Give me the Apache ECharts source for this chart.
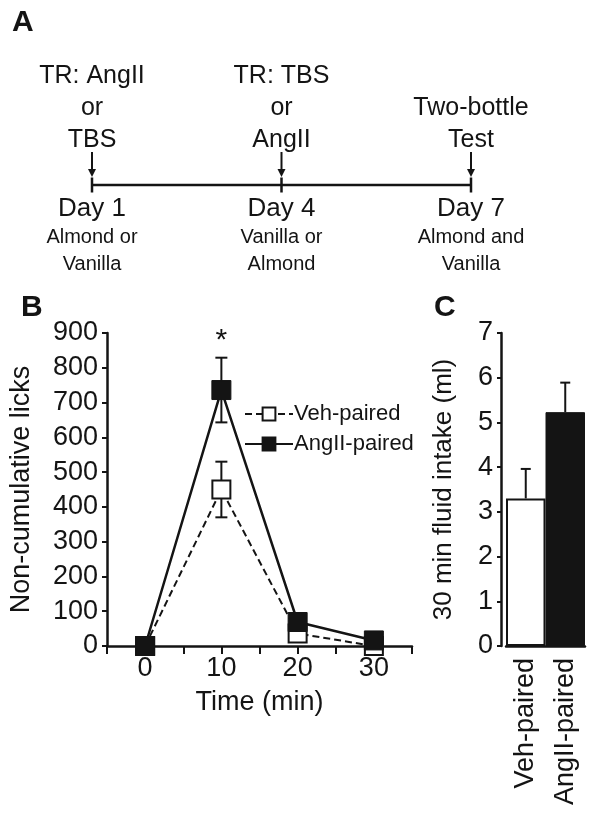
<!DOCTYPE html>
<html>
<head>
<meta charset="utf-8">
<script src="https://cdn.jsdelivr.net/npm/echarts@6/dist/echarts.min.js"></script>
<style>html,body{margin:0;padding:0;background:#fff}#c{width:601px;height:814px}</style>
</head>
<body>
<div id="c"></div>
<script>
// ---- Panel A (timeline) ----
const days = [1, 4, 7];
const treatLabels = ['TR: AngII\nor\nTBS', 'TR: TBS\nor\nAngII', 'Two-bottle\nTest'];
const dayLabels = ['Day 1', 'Day 4', 'Day 7'];
const flavorLabels = [['Almond or', 'Vanilla'], ['Vanilla or', 'Almond'], ['Almond and', 'Vanilla']];

// ---- Panel B (licks over time) ----
const times = [0, 10, 20, 30];
const xTickLabels = [0, 10, 20, 30];
const vehLicks = [0, 450, 36, 0];
const vehErr = [0, 80, 0, 0];
const angLicks = [0, 736, 69, 16];
const angErr = [0, 93, 0, 0];
const sigTimes = [10];

// ---- Panel C (intake bars) ----
const groups = ['Veh-paired', 'AngII-paired'];
const intake = [3.30, 5.23];
const intakeErr = [0.66, 0.66];

const FONT = 'Liberation Sans, Arial, sans-serif';
const INK = '#141414';

function errSeries(name, xi, yi, data, both, capW, z) {
  return {
    name: name, type: 'custom', xAxisIndex: xi, yAxisIndex: yi, z: z, silent: true,
    data: data,
    encode: { x: 0, y: 1 },
    renderItem: function (params, api) {
      const x = api.value(0), v = api.value(1), e = api.value(2);
      const top = api.coord([x, v + e]);
      const bot = api.coord([x, both ? v - e : v]);
      const st = { stroke: INK, lineWidth: 2 };
      const ch = [
        { type: 'line', shape: { x1: top[0], y1: top[1], x2: bot[0], y2: bot[1] }, style: st },
        { type: 'line', shape: { x1: top[0] - capW / 2, y1: top[1], x2: top[0] + capW / 2, y2: top[1] }, style: st }
      ];
      if (both) ch.push({ type: 'line', shape: { x1: bot[0] - capW / 2, y1: bot[1], x2: bot[0] + capW / 2, y2: bot[1] }, style: st });
      return { type: 'group', children: ch };
    }
  };
}

const chart = echarts.init(document.getElementById('c'), null, { renderer: 'canvas' });

const option = {
  backgroundColor: '#fff',
  animation: false,
  textStyle: { fontFamily: FONT, color: INK },
  title: [
    { text: 'A', left: 12, top: 8, padding: 0, textStyle: { fontFamily: FONT, fontSize: 30, fontWeight: 'bold', color: INK } },
    { text: 'B', left: 21, top: 293, padding: 0, textStyle: { fontFamily: FONT, fontSize: 30, fontWeight: 'bold', color: INK } },
    { text: 'C', left: 434, top: 293, padding: 0, textStyle: { fontFamily: FONT, fontSize: 30, fontWeight: 'bold', color: INK } }
  ],
  legend: {
    orient: 'vertical', left: 244, top: 403, itemWidth: 48, itemHeight: 16, itemGap: 8,
    padding: 0,
    textStyle: { fontFamily: FONT, fontSize: 22, color: INK, padding: [0, 0, 0, -4] },
    data: ['Veh-paired', 'AngII-paired'],
    selectedMode: false
  },
  grid: [
    { left: 92, right: 130, top: 175, height: 20 },
    { left: 107, right: 189, top: 333, bottom: 168 },
    { left: 506, right: 16, top: 333, bottom: 168 }
  ],
  xAxis: [
    { gridIndex: 0, type: 'value', min: 1, max: 7, show: false },
    {
      gridIndex: 1, type: 'value', min: -5, max: 35, interval: 5,
      axisLine: { onZero: false, lineStyle: { color: INK, width: 2.5 } },
      axisTick: { inside: false, length: 8, lineStyle: { color: INK, width: 2 } },
      splitLine: { show: false },
      axisLabel: {
        fontFamily: FONT, fontSize: 27, color: INK, margin: 9,
        formatter: function (v) { return xTickLabels.indexOf(v) >= 0 ? String(v) : ''; }
      },
      name: 'Time (min)', nameLocation: 'middle', nameGap: 43,
      nameTextStyle: { fontFamily: FONT, fontSize: 27, color: INK }
    },
    {
      gridIndex: 2, type: 'category', data: groups,
      axisLine: { onZero: false, lineStyle: { color: INK, width: 2.5 } },
      axisTick: { show: false },
      axisLabel: { fontFamily: FONT, fontSize: 27, color: INK, rotate: 90, margin: 12, interval: 0 }
    }
  ],
  yAxis: [
    { gridIndex: 0, type: 'value', min: -1, max: 1, show: false },
    {
      gridIndex: 1, type: 'value', min: 0, max: 900, interval: 100,
      axisLine: { show: true, onZero: false, lineStyle: { color: INK, width: 2.5 } },
      axisTick: { show: true, length: 5, lineStyle: { color: INK, width: 2 } },
      splitLine: { show: false },
      axisLabel: { fontFamily: FONT, fontSize: 27, color: INK, margin: 9 },
      name: 'Non-cumulative licks', nameLocation: 'middle', nameGap: 72,
      nameTextStyle: { fontFamily: FONT, fontSize: 27, color: INK }
    },
    {
      gridIndex: 2, type: 'value', min: 0, max: 7, interval: 1, offset: 5,
      axisLine: { show: true, onZero: false, lineStyle: { color: INK, width: 2.5 } },
      axisTick: { show: true, length: 4, lineStyle: { color: INK, width: 2 } },
      splitLine: { show: false },
      axisLabel: { fontFamily: FONT, fontSize: 27, color: INK, margin: 8 },
      name: '30 min fluid intake (ml)', nameLocation: 'middle', nameGap: 44,
      nameTextStyle: { fontFamily: FONT, fontSize: 26, color: INK }
    }
  ],
  series: [
    // ---- A: timeline ----
    {
      type: 'line', xAxisIndex: 0, yAxisIndex: 0, silent: true,
      data: days.map(d => [d, 0]),
      lineStyle: { color: INK, width: 2.5 },
      symbol: 'rect', symbolSize: [2.5, 15], itemStyle: { color: INK }
    },
    {
      type: 'custom', xAxisIndex: 0, yAxisIndex: 0, silent: true,
      data: days.map(d => [d, 0]), encode: { x: 0, y: 1 },
      renderItem: function (params, api) {
        const p = api.coord([api.value(0), api.value(1)]);
        return {
          type: 'group', children: [
            { type: 'line', shape: { x1: p[0], y1: p[1] - 33, x2: p[0], y2: p[1] - 14 }, style: { stroke: INK, lineWidth: 2 } },
            { type: 'polygon', shape: { points: [[p[0] - 4, p[1] - 16], [p[0] + 4, p[1] - 16], [p[0], p[1] - 8]] }, style: { fill: INK } }
          ]
        };
      }
    },
    {
      type: 'scatter', xAxisIndex: 0, yAxisIndex: 0, silent: true, symbolSize: 0,
      itemStyle: { opacity: 1 },
      data: days.map((d, i) => ({ value: [d, 0], label: { formatter: treatLabels[i] } })),
      label: { show: true, position: 'top', distance: 29, fontFamily: FONT, fontSize: 25, lineHeight: 32, color: INK, opacity: 1, align: 'center' }
    },
    {
      type: 'scatter', xAxisIndex: 0, yAxisIndex: 0, silent: true, symbolSize: 0,
      itemStyle: { opacity: 1 },
      data: days.map((d, i) => ({
        value: [d, 0],
        label: { formatter: '{d|' + dayLabels[i] + '}\n{s|' + flavorLabels[i][0] + '}\n{s|' + flavorLabels[i][1] + '}' }
      })),
      label: {
        show: true, position: 'bottom', distance: 9, align: 'center', color: INK, opacity: 1,
        rich: {
          d: { fontFamily: FONT, fontSize: 26, lineHeight: 30, color: INK, align: 'center' },
          s: { fontFamily: FONT, fontSize: 20, lineHeight: 27, color: INK, align: 'center' }
        }
      }
    },
    // ---- B ----
    errSeries('vehErr', 1, 1, times.map((t, i) => [t, vehLicks[i], vehErr[i]]).filter(d => d[2] > 0), true, 12, 1),
    errSeries('angErr', 1, 1, times.map((t, i) => [t, angLicks[i], angErr[i]]).filter(d => d[2] > 0), true, 12, 1),
    {
      name: 'Veh-paired', type: 'line', xAxisIndex: 1, yAxisIndex: 1, z: 3, silent: true,
      data: times.map((t, i) => [t, vehLicks[i]]),
      lineStyle: { color: INK, width: 2, type: [7, 4] },
      symbol: 'rect', symbolSize: 18, showAllSymbol: true,
      itemStyle: { color: '#fff', borderColor: INK, borderWidth: 2 }
    },
    {
      name: 'AngII-paired', type: 'line', xAxisIndex: 1, yAxisIndex: 1, z: 4, silent: true,
      data: times.map((t, i) => [t, angLicks[i]]),
      lineStyle: { color: INK, width: 2.5 },
      symbol: 'rect', symbolSize: 19, showAllSymbol: true,
      itemStyle: { color: INK, borderColor: INK, borderWidth: 1 }
    },
    {
      type: 'scatter', xAxisIndex: 1, yAxisIndex: 1, silent: true, symbolSize: 0, z: 5,
      itemStyle: { opacity: 1 },
      data: sigTimes.map(t => { const i = times.indexOf(t); return [t, angLicks[i] + angErr[i]]; }),
      label: { show: true, position: 'top', distance: 2, formatter: '*', fontFamily: FONT, fontSize: 30, color: INK, opacity: 1 }
    },
    // ---- C ----
    errSeries('intakeErr', 2, 2, groups.map((g, i) => [i, intake[i], intakeErr[i]]), false, 10, 1),
    {
      type: 'bar', xAxisIndex: 2, yAxisIndex: 2, z: 2, silent: true,
      barCategoryGap: '0%',
      data: intake.map((v, i) => ({
        value: v,
        itemStyle: i === 0 ? { color: '#fff', borderColor: INK, borderWidth: 2 } : { color: INK, borderColor: INK, borderWidth: 1 }
      }))
    }
  ]
};
chart.setOption(option);
</script>
</body>
</html>
